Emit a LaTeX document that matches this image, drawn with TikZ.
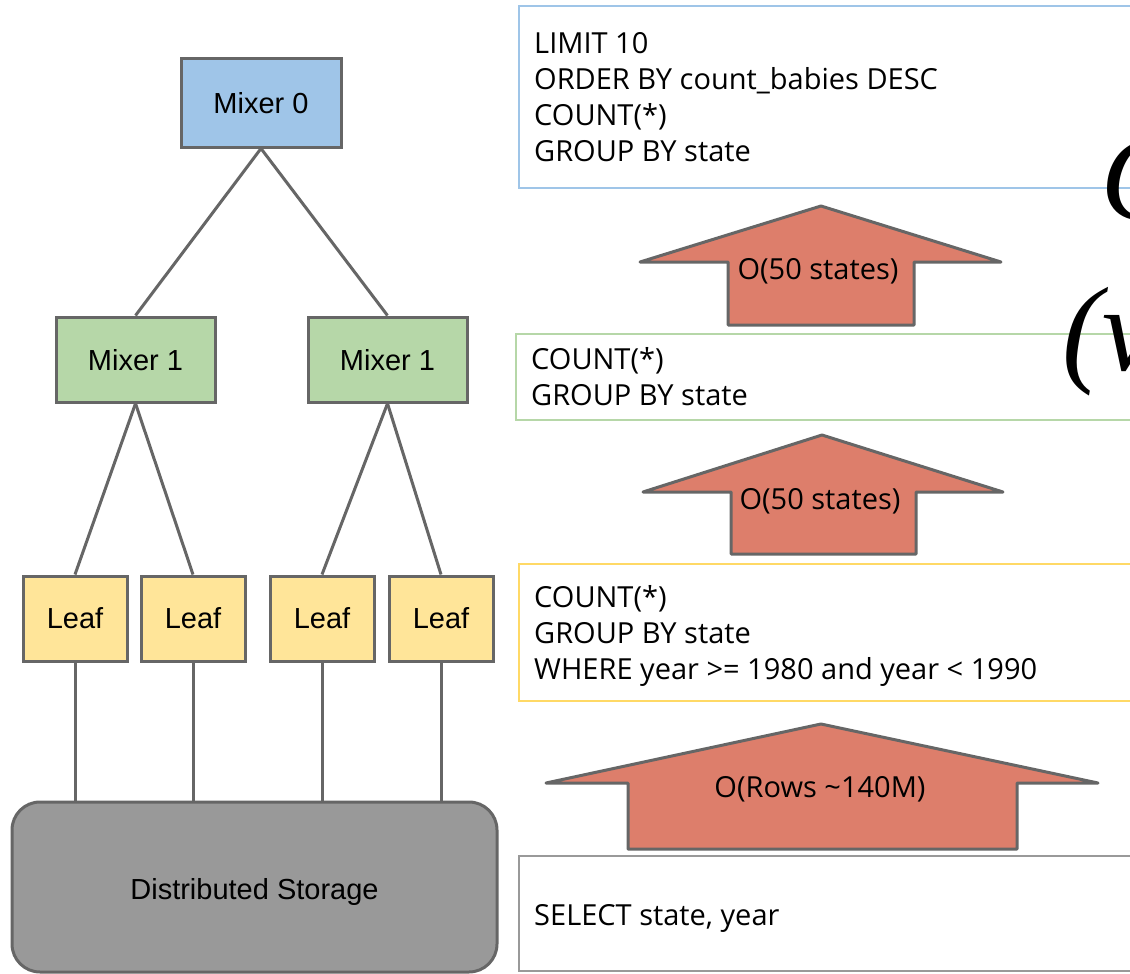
\documentclass[tikz,border=0pt]{standalone}
\usepackage{fontspec}
\setmainfont{Open Sans}
\newfontfamily\arialf{Liberation Sans}
\newfontfamily\bigserif{Liberation Serif}
\definecolor{mixblue}{HTML}{9FC5E8}
\definecolor{mixgreen}{HTML}{B6D7A8}
\definecolor{leafyellow}{HTML}{FFE599}
\definecolor{storegray}{HTML}{999999}
\definecolor{edgegray}{HTML}{666666}
\definecolor{arrowred}{HTML}{DD7E6B}
\definecolor{boxyellow}{HTML}{FFD966}
\begin{document}
\begin{tikzpicture}[x=1pt,y=-1pt,
  treebox/.style={draw=edgegray, line width=3pt, rectangle, inner sep=0pt,
    font=\arialf\fontsize{29}{29}\selectfont, text depth=0pt},
  link/.style={draw=edgegray, line width=3pt},
  qbox/.style={rectangle, line width=1.8pt, inner sep=0pt},
  qtext/.style={anchor=base west, align=left, inner sep=0pt,
    font=\fontsize{29}{36}\selectfont},
  uparrow/.style={draw=edgegray, fill=arrowred, line width=3pt, line join=round},
  alabel/.style={anchor=base, inner sep=0pt, font=\fontsize{29}{36}\selectfont},
  bigglyph/.style={anchor=base west, inner sep=0pt, font=\bigserif\itshape\fontsize{120}{120}\selectfont}]
\useasboundingbox (0,0) rectangle (1130,974);
\clip (0,0) rectangle (1130,974);
\fill[white] (0,0) rectangle (1130,974);

% tree
\node[treebox, fill=mixblue, minimum width=160, minimum height=88] (m0) at (261,103) {Mixer 0};
\node[treebox, fill=mixgreen, minimum width=159, minimum height=85] (m1a) at (135.5,359.5) {Mixer 1};
\node[treebox, fill=mixgreen, minimum width=159, minimum height=85] (m1b) at (387.5,359.5) {Mixer 1};
\node[treebox, fill=leafyellow, minimum width=104, minimum height=85] (l1) at (75,618.5) {Leaf};
\node[treebox, fill=leafyellow, minimum width=104, minimum height=85] (l2) at (193,618.5) {Leaf};
\node[treebox, fill=leafyellow, minimum width=104, minimum height=85] (l3) at (322,618.5) {Leaf};
\node[treebox, fill=leafyellow, minimum width=104, minimum height=85] (l4) at (441,618.5) {Leaf};
\node[treebox, fill=storegray, rounded corners=28pt, minimum width=485, minimum height=170] (st) at (254.5,887) {\raisebox{-3pt}{Distributed Storage}};

\draw[link] (m0.south) -- (m1a.north);
\draw[link] (m0.south) -- (m1b.north);
\draw[link] (m1a.south) -- (l1.north);
\draw[link] (m1a.south) -- (l2.north);
\draw[link] (m1b.south) -- (l3.north);
\draw[link] (m1b.south) -- (l4.north);
\foreach \l in {l1,l2,l3,l4}{
  \draw[link] (\l.south) -- (\l.south |- st.north);
}

% query boxes (text anchored at the baseline of the last line)
\node[qbox, draw=mixblue, minimum width=621, minimum height=182] (q1) at (829.5,97) {};
\node[qtext] (t1) at (534,161) {LIMIT 10\\ORDER BY count\_babies DESC\\COUNT(*)\\GROUP BY state};
\node[qbox, draw=mixgreen, minimum width=624, minimum height=86] (q2) at (828,377) {};
\node[qtext] (t2) at (531,405) {COUNT(*)\\GROUP BY state};
\node[qbox, draw=boxyellow, minimum width=621, minimum height=137] (q3) at (829.5,632.5) {};
\node[qtext] (t3) at (534,679) {COUNT(*)\\GROUP BY state\\WHERE year >= 1980 and year < 1990};
\node[qbox, draw=storegray, minimum width=621, minimum height=115] (q4) at (829.5,913.5) {};
\node[qtext] (t4) at (534,925) {SELECT state, year};

% arrows
\draw[uparrow] (821,206) -- (1001,262) -- (914,262) -- (914,325) -- (728,325) -- (728,262) -- (640,262) -- cycle;
\node[alabel] (a1) at (818,279) {O(50 states)};
\draw[uparrow] (822,435) -- (1003,492) -- (916,492) -- (916,554) -- (731,554) -- (731,492) -- (643,492) -- cycle;
\node[alabel] (a2) at (820,509) {O(50 states)};
\draw[uparrow] (821,724) -- (1098,783) -- (1017,783) -- (1017,849) -- (628,849) -- (628,783) -- (546,783) -- cycle;
\node[alabel] (a3) at (820,797) {O(Rows \textasciitilde 140M)};

% large clipped glyphs
\node[bigglyph] (g1) at (1101,219) {O};
\node[bigglyph] (g2) at (1062,370) {(v};
\end{tikzpicture}
\end{document}
